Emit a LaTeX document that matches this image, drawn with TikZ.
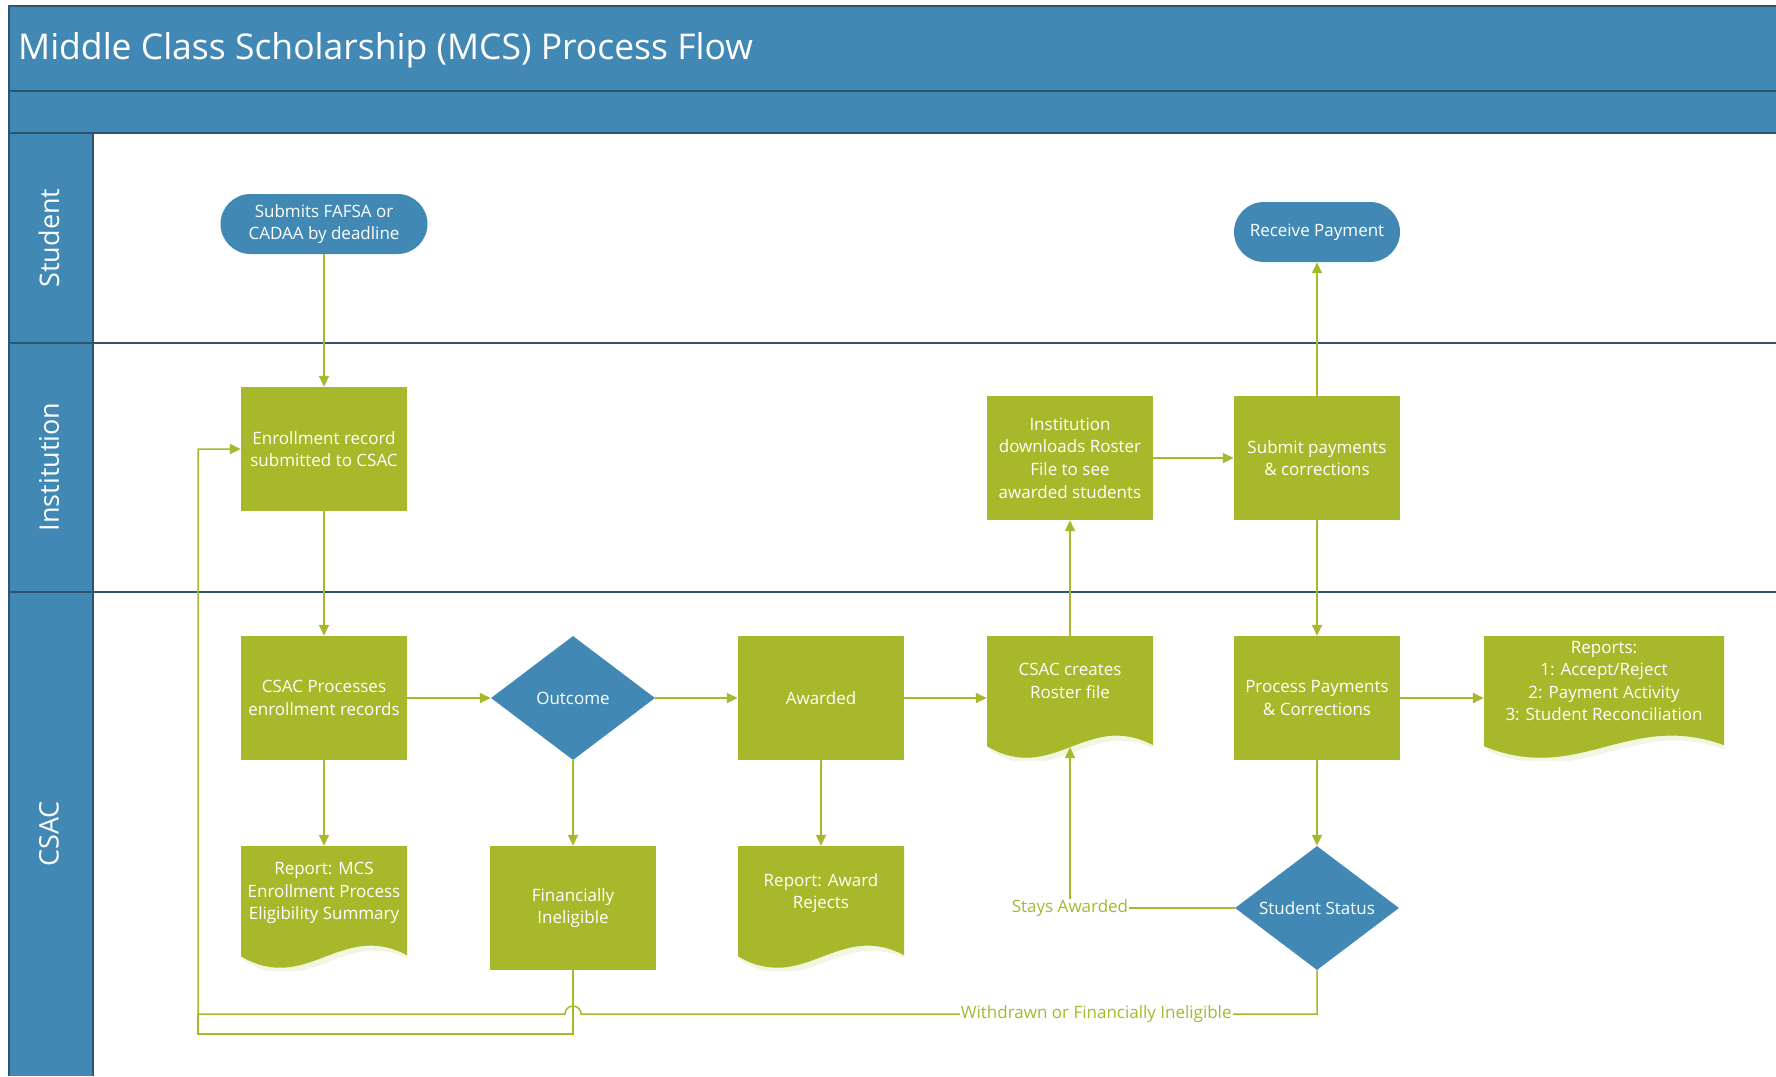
\documentclass[tikz,border=0pt]{standalone}
\usepackage{fontspec}
\setmainfont{Open Sans}
\usepackage{tikz}
\usetikzlibrary{arrows.meta}
\usetikzlibrary{shapes.geometric}
\usetikzlibrary{calc}

\definecolor{mcsblue}{RGB}{65,137,180}
\definecolor{mcsgreen}{RGB}{167,185,42}
\definecolor{mcsline}{RGB}{46,84,110}

\begin{document}
\begin{tikzpicture}[x=1pt,y=-1pt,
        lanerule/.style={draw=mcsline,line width=1.4pt},
        lanetext/.style={rotate=90,text=white,font=\fontsize{27}{30}\selectfont},
        shapetext/.style={text=white,align=center,font=\fontsize{17}{22.6}\selectfont,inner sep=2pt},
        procbox/.style={shapetext,fill=mcsgreen,minimum width=166pt,minimum height=124pt},
        termbox/.style={shapetext,fill=mcsblue,minimum width=166pt,minimum height=60pt,rounded corners=30pt},
        decbox/.style={shapetext,diamond,fill=mcsblue,minimum width=164pt,minimum height=124pt,aspect=1.32,inner sep=0pt},
        docbox/.style={shapetext,minimum width=166pt,minimum height=124pt,text depth=34pt,
            path picture={
                \fill[mcsgreen!15] let \p1=(path picture bounding box.north west), \p2=(path picture bounding box.south east),
                    \n1={\x2-\x1}, \n2={\y1-\y2} in
                    ({\x1+4},{\y1-4}) -- ({\x2+4},{\y1-4}) -- ({\x2+4},{\y1-0.88*\n2-5}) .. controls ({\x1+0.6*\n1+4},{\y1-0.6*\n2-5}) and ({\x1+0.4*\n1+4},{\y1-1.2*\n2-5}) .. ({\x1+4},{\y1-0.89*\n2-5}) -- cycle;
                \fill[mcsgreen] let \p1=(path picture bounding box.north west), \p2=(path picture bounding box.south east),
                    \n1={\x2-\x1}, \n2={\y1-\y2} in
                    (\p1) -- (\x2,\y1) -- ({\x2},{\y1-0.88*\n2}) .. controls ({\x1+0.6*\n1},{\y1-0.6*\n2}) and ({\x1+0.4*\n1},{\y1-1.2*\n2}) .. ({\x1},{\y1-0.89*\n2}) -- cycle;}},
        flow/.style={draw=mcsgreen,line width=1.5pt,-{Triangle[length=11pt,width=10pt]}},
        flowlabel/.style={fill=white,text=mcsgreen,font=\fontsize{17}{20}\selectfont,inner sep=1pt}]
        \useasboundingbox[fill=white] (0,0) rectangle (1776,1076);
        \fill[mcsblue] (9,6) rectangle (1776,133);
        \fill[mcsblue] (9,133) rectangle (93,1076);
        \draw[lanerule] (9,1076) -- (9,6) -- (1776,6);
        \draw[lanerule] (9,91) -- (1776,91);
        \draw[lanerule] (9,133) -- (1776,133);
        \draw[lanerule] (93,133) -- (93,1076);
        \draw[lanerule] (9,343) -- (1776,343);
        \draw[lanerule] (9,592) -- (1776,592);
        \node[anchor=west,text=white,font=\fontsize{35.5}{40}\selectfont,inner sep=0pt] (title) at (18,50) {Middle Class Scholarship (MCS) Process Flow};
        \node[lanetext] (studentlane) at (49,238) {Student};
        \node[lanetext] (institutionlane) at (49,467) {Institution};
        \node[lanetext] (csaclane) at (49,834) {CSAC};

        \node[termbox,minimum width=207pt] (fafsa) at (324,224) {Submits FAFSA or\\CADAA by deadline};
        \node[termbox] (receive) at (1317,232) {Receive Payment};
        \node[procbox] (enroll) at (324,449) {Enrollment record\\submitted to CSAC};
        \node[procbox] (download) at (1070,458) {Institution\\downloads Roster\\File to see\\awarded students};
        \node[procbox] (submitpay) at (1317,458) {Submit payments\\\& corrections};
        \node[procbox] (csacproc) at (324,698) {CSAC Processes\\enrollment records};
        \node[decbox] (outcome) at (573,698) {Outcome};
        \node[procbox] (awarded) at (821,698) {Awarded};
        \node[docbox] (roster) at (1070,698) {CSAC creates\\Roster file};
        \node[procbox] (procpay) at (1317,698) {Process Payments\\\& Corrections};
        \node[docbox,minimum width=240pt] (reports) at (1604,698) {Reports:\\1: Accept/Reject\\2: Payment Activity\\3: Student Reconciliation};
        \node[docbox] (mcsreport) at (324,908) {Report: MCS\\Enrollment Process\\Eligibility Summary};
        \node[procbox] (inelig) at (573,908) {Financially\\Ineligible};
        \node[docbox] (rejects) at (821,908) {Report: Award\\Rejects};
        \node[decbox] (status) at (1317,908) {Student Status};

        \coordinate (hopright) at (581,1014);
        \coordinate (loopleft) at (198,1014);
        \coordinate (loopbottom) at (198,1034);

        \draw[flow] (fafsa) -- (enroll);
        \draw[flow] (enroll) -- (csacproc);
        \draw[flow] (csacproc) -- (outcome);
        \draw[flow] (csacproc) -- (mcsreport);
        \draw[flow] (outcome) -- (awarded);
        \draw[flow] (outcome) -- (inelig);
        \draw[flow] (awarded) -- (rejects);
        \draw[flow] (awarded) -- (roster);
        \draw[flow] (roster) -- (download);
        \draw[flow] (download) -- (submitpay);
        \draw[flow] (submitpay) -- (receive);
        \draw[flow] (submitpay) -- (procpay);
        \draw[flow] (procpay) -- (reports);
        \draw[flow] (procpay) -- (status);
        \draw[flow] (status.west) -| node[flowlabel,pos=0.5] {Stays Awarded} ([yshift=13pt]roster.south);
        \draw[flow] (status.south) |- node[flowlabel,pos=0.65] {Withdrawn or Financially Ineligible} (hopright)
            arc[start angle=0,end angle=-180,radius=8] -- (loopleft) |- (enroll.west);
        \draw[flow,-] (inelig.south) |- (loopbottom) -- (loopleft);
\end{tikzpicture}
\end{document}
